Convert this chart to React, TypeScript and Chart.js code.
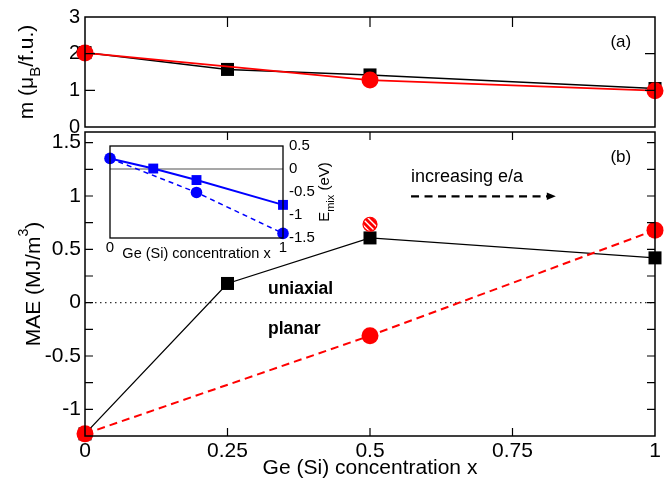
import React, { useEffect, useRef } from 'react';
import { Chart, registerables } from 'chart.js';
Chart.register(...registerables);

const W = 672;
const H = 483;
const FONT = "'Liberation Sans', Arial, Helvetica, sans-serif";

// shared x axis
const xTicks = [0, 0.25, 0.5, 0.75, 1];
const xTickLabels = ['0', '0.25', '0.5', '0.75', '1'];
const xInnerTicks = [0.25, 0.5, 0.75];

// panel (a): magnetic moment
const momentBlackX = [0, 0.25, 0.5, 1];
const momentBlack = [2.03, 1.57, 1.42, 1.05];
const momentRedX = [0, 0.5, 1];
const momentRed = [2.02, 1.28, 0.99];
const yTicksA = [0, 1, 2, 3];
const yTickLabelsA = ['0', '1', '2', '3'];
const yInnerTicksA = [1, 2];

// panel (b): MAE
const maeBlackX = [0, 0.25, 0.5, 1];
const maeBlack = [-1.23, 0.18, 0.607, 0.42];
const maeRedX = [0, 0.5, 1];
const maeRed = [-1.23, -0.31, 0.68];
const maeHatchX = [0.5];
const maeHatch = [0.735];
const zeroX = [0, 1];
const zeroY = [0, 0];
const yTicksB = [-1, -0.5, 0, 0.5, 1, 1.5];
const yTickLabelsB = ['-1', '-0.5', '0', '0.5', '1', '1.5'];
const yInnerTicksB = [-1, -0.75, -0.5, -0.25, 0, 0.25, 0.5, 0.75, 1, 1.25, 1.5];

// inset: E_mix
const insetSquareX = [0, 0.25, 0.5, 1];
const insetSquare = [0.23, 0.01, -0.24, -0.78];
const insetCircleX = [0, 0.5, 1];
const insetCircle = [0.23, -0.51, -1.4];
const insetXTicks = [0, 1];
const insetXTickLabels = ['0', '1'];
const insetYTicks = [-1.5, -1, -0.5, 0, 0.5];
const insetYTickLabels = ['-1.5', '-1', '-0.5', '0', '0.5'];

const pts = (xs: number[], ys: number[]) => xs.map((x, i) => ({ x, y: ys[i] }));

type Part = { t: string; size: number; dy?: number; bold?: boolean };

function drawRich(ctx: CanvasRenderingContext2D, parts: Part[], x: number, y: number, rotate = false, align: 'center' | 'left' = 'center') {
  ctx.save();
  ctx.translate(x, y);
  if (rotate) ctx.rotate(-Math.PI / 2);
  ctx.textBaseline = 'alphabetic';
  ctx.textAlign = 'left';
  ctx.fillStyle = '#000';
  let total = 0;
  const widths: number[] = [];
  for (const p of parts) {
    ctx.font = `${p.bold ? 'bold ' : ''}${p.size}px ${FONT}`;
    const w = ctx.measureText(p.t).width;
    widths.push(w);
    total += w;
  }
  let cx = align === 'center' ? -total / 2 : 0;
  parts.forEach((p, i) => {
    ctx.font = `${p.bold ? 'bold ' : ''}${p.size}px ${FONT}`;
    ctx.fillText(p.t, cx, p.dy || 0);
    cx += widths[i];
  });
  ctx.restore();
}

function frameAndTicks(chart: any, opt: { lw: number; len: number; xs: number[]; ys: number[]; top: boolean; bottom: boolean; left: boolean; right: boolean }) {
  const ctx: CanvasRenderingContext2D = chart.ctx;
  const a = chart.chartArea;
  const xs = chart.scales.x;
  const ys = chart.scales.y;
  ctx.save();
  ctx.strokeStyle = '#000';
  ctx.lineWidth = opt.lw;
  ctx.setLineDash([]);
  ctx.strokeRect(a.left, a.top, a.right - a.left, a.bottom - a.top);
  ctx.lineWidth = 1.2;
  ctx.beginPath();
  for (const v of opt.xs) {
    const px = xs.getPixelForValue(v);
    if (opt.top) { ctx.moveTo(px, a.top); ctx.lineTo(px, a.top + opt.len); }
    if (opt.bottom) { ctx.moveTo(px, a.bottom); ctx.lineTo(px, a.bottom - opt.len); }
  }
  for (const v of opt.ys) {
    const py = ys.getPixelForValue(v);
    if (opt.left) { ctx.moveTo(a.left, py); ctx.lineTo(a.left + opt.len, py); }
    if (opt.right) { ctx.moveTo(a.right, py); ctx.lineTo(a.right - opt.len, py); }
  }
  ctx.stroke();
  ctx.restore();
}

function makeHatch(): CanvasPattern | string {
  const c = document.createElement('canvas');
  c.width = 6;
  c.height = 6;
  const g = c.getContext('2d');
  if (!g) return '#ff0000';
  g.fillStyle = '#ff0000';
  g.fillRect(0, 0, 6, 6);
  g.strokeStyle = '#ffffff';
  g.lineWidth = 1.4;
  g.beginPath();
  g.moveTo(-3, 3); g.lineTo(3, 9);
  g.moveTo(0, 0); g.lineTo(6, 6);
  g.moveTo(3, -3); g.lineTo(9, 3);
  g.stroke();
  return g.createPattern(c, 'repeat') || '#ff0000';
}

const noGrid = { display: false, drawTicks: false };
const noBorder = { display: false };

function fixedTicks(values: number[]) {
  return (s: any) => { s.ticks = values.map((v) => ({ value: v })); };
}

function configA(): any {
  return {
    type: 'line',
    data: {
      datasets: [
        { data: pts(momentRedX, momentRed), order: 0, borderColor: '#ff0000', borderWidth: 1.8, pointStyle: 'circle', pointRadius: 8.5, pointBackgroundColor: '#ff0000', pointBorderWidth: 0, clip: false },
        { data: pts(momentBlackX, momentBlack), order: 1, borderColor: '#000', borderWidth: 1.5, pointStyle: 'rect', pointRadius: 9.2, pointBackgroundColor: '#000', pointBorderWidth: 0, clip: false },
      ],
    },
    options: {
      responsive: false, animation: false, events: [],
      layout: { padding: { left: 0, top: 15, right: W - 655, bottom: 0 } },
      plugins: { legend: { display: false }, tooltip: { enabled: false } },
      scales: {
        x: { type: 'linear', min: 0, max: 1, afterBuildTicks: fixedTicks(xTicks), ticks: { display: false }, grid: noGrid, border: noBorder, afterFit: (s: any) => { s.height = H - 127; } },
        y: {
          type: 'linear', min: 0, max: 3, afterBuildTicks: fixedTicks(yTicksA),
          ticks: { font: { family: FONT, size: 20 }, color: '#000', padding: 5, callback: (_v: any, i: number) => yTickLabelsA[i] },
          grid: noGrid, border: noBorder, afterFit: (s: any) => { s.width = 85; },
        },
      },
    },
    plugins: [{
      id: 'decorA',
      afterDraw(chart: any) {
        const ctx = chart.ctx;
        frameAndTicks(chart, { lw: 1.5, len: 10, xs: xInnerTicks, ys: yInnerTicksA, top: true, bottom: false, left: true, right: true });
        const a = chart.chartArea;
        drawRich(ctx, [
          { t: 'm (\u03BC', size: 21 },
          { t: 'B', size: 15, dy: 7 },
          { t: '/f.u.)', size: 21 },
        ], 33, (a.top + a.bottom) / 2, true);
        const xs = chart.scales.x, ys = chart.scales.y;
        ctx.save();
        ctx.font = `17px ${FONT}`;
        ctx.fillStyle = '#000';
        ctx.textAlign = 'center';
        ctx.textBaseline = 'middle';
        ctx.fillText('(a)', xs.getPixelForValue(0.94), ys.getPixelForValue(2.31));
        ctx.restore();
      },
    }],
  };
}

function configB(): any {
  return {
    type: 'line',
    data: {
      datasets: [
        { data: pts(maeHatchX, maeHatch), order: 0, showLine: false, pointStyle: 'circle', pointRadius: 7, pointBackgroundColor: makeHatch(), pointBorderColor: '#ff0000', pointBorderWidth: 1.2, clip: false },
        { data: pts(maeRedX, maeRed), order: 1, borderColor: '#ff0000', borderWidth: 2, borderDash: [8, 5], pointStyle: 'circle', pointRadius: 8.5, pointBackgroundColor: '#ff0000', pointBorderWidth: 0, clip: false },
        { data: pts(maeBlackX, maeBlack), order: 2, borderColor: '#000', borderWidth: 1.3, pointStyle: 'rect', pointRadius: 9.2, pointBackgroundColor: '#000', pointBorderWidth: 0, clip: false },
        { data: pts(zeroX, zeroY), order: 3, borderColor: '#333', borderWidth: 1.2, borderDash: [1.5, 3.5], pointRadius: 0 },
      ],
    },
    options: {
      responsive: false, animation: false, events: [],
      layout: { padding: { left: 0, top: 132, right: W - 655, bottom: 0 } },
      plugins: { legend: { display: false }, tooltip: { enabled: false } },
      scales: {
        x: {
          type: 'linear', min: 0, max: 1, afterBuildTicks: fixedTicks(xTicks),
          ticks: { font: { family: FONT, size: 21 }, color: '#000', padding: 3, autoSkip: false, maxRotation: 0, callback: (_v: any, i: number) => xTickLabels[i] },
          grid: noGrid, border: noBorder, afterFit: (s: any) => { s.height = H - 436; },
        },
        y: {
          type: 'linear', min: -1.25, max: 1.6, afterBuildTicks: fixedTicks(yTicksB),
          ticks: { font: { family: FONT, size: 21 }, color: '#000', padding: 4, callback: (_v: any, i: number) => yTickLabelsB[i] },
          grid: noGrid, border: noBorder, afterFit: (s: any) => { s.width = 85; },
        },
      },
    },
    plugins: [{
      id: 'decorB',
      afterDraw(chart: any) {
        const ctx: CanvasRenderingContext2D = chart.ctx;
        frameAndTicks(chart, { lw: 1.5, len: 8, xs: xInnerTicks, ys: yInnerTicksB, top: true, bottom: true, left: true, right: true });
        const a = chart.chartArea;
        const xs = chart.scales.x, ys = chart.scales.y;
        drawRich(ctx, [{ t: 'Ge (Si) concentration x', size: 21 }], (a.left + a.right) / 2, 474);
        drawRich(ctx, [
          { t: 'MAE (MJ/m', size: 21 },
          { t: '3', size: 14, dy: -12 },
          { t: ')', size: 21 },
        ], 39.5, (a.top + a.bottom) / 2, true);
        ctx.save();
        ctx.fillStyle = '#000';
        ctx.textAlign = 'center';
        ctx.textBaseline = 'middle';
        ctx.font = `17px ${FONT}`;
        ctx.fillText('(b)', xs.getPixelForValue(0.94), ys.getPixelForValue(1.362));
        ctx.textAlign = 'left';
        ctx.textBaseline = 'alphabetic';
        ctx.font = `bold 17.5px ${FONT}`;
        ctx.fillText('uniaxial', xs.getPixelForValue(0.321), ys.getPixelForValue(0.08));
        ctx.fillText('planar', xs.getPixelForValue(0.321), ys.getPixelForValue(-0.295));
        ctx.font = `18px ${FONT}`;
        const tx = xs.getPixelForValue(0.572);
        ctx.fillText('increasing e/a', tx, ys.getPixelForValue(1.128));
        // dashed arrow
        const ay = ys.getPixelForValue(0.997);
        const tip = xs.getPixelForValue(0.826);
        ctx.strokeStyle = '#000';
        ctx.lineWidth = 2.3;
        ctx.setLineDash([8, 5.5]);
        ctx.beginPath();
        ctx.moveTo(tx, ay);
        ctx.lineTo(tip - 8, ay);
        ctx.stroke();
        ctx.setLineDash([]);
        ctx.beginPath();
        ctx.moveTo(tip, ay);
        ctx.lineTo(tip - 9, ay - 3.8);
        ctx.lineTo(tip - 9, ay + 3.8);
        ctx.closePath();
        ctx.fillStyle = '#000';
        ctx.fill();
        ctx.restore();
      },
    }],
  };
}

function configInset(): any {
  return {
    type: 'line',
    data: {
      datasets: [
        { data: pts(insetCircleX, insetCircle), order: 0, borderColor: '#0000ff', borderWidth: 1.5, borderDash: [5, 4], pointStyle: 'circle', pointRadius: 5.8, pointBackgroundColor: '#0000ff', pointBorderWidth: 0, clip: false },
        { data: pts(insetSquareX, insetSquare), order: 1, borderColor: '#0000ff', borderWidth: 2, pointStyle: 'rect', pointRadius: [0, 7, 7, 7], pointBackgroundColor: '#0000ff', pointBorderWidth: 0, clip: false },
        { data: pts(zeroX, zeroY), order: 2, borderColor: '#8a8a8a', borderWidth: 1.5, pointRadius: 0 },
      ],
    },
    options: {
      responsive: false, animation: false, events: [],
      layout: { padding: { left: 110, top: 146, right: 0, bottom: 0 } },
      plugins: { legend: { display: false }, tooltip: { enabled: false } },
      scales: {
        x: {
          type: 'linear', min: 0, max: 1, afterBuildTicks: fixedTicks(insetXTicks),
          ticks: { font: { family: FONT, size: 15 }, color: '#000', padding: 1, autoSkip: false, maxRotation: 0, callback: (_v: any, i: number) => insetXTickLabels[i] },
          grid: noGrid, border: noBorder, afterFit: (s: any) => { s.height = H - 238; },
        },
        y: {
          type: 'linear', position: 'right', min: -1.5, max: 0.5, afterBuildTicks: fixedTicks(insetYTicks),
          ticks: { font: { family: FONT, size: 15 }, color: '#000', padding: 6, callback: (_v: any, i: number) => insetYTickLabels[i] },
          grid: noGrid, border: noBorder, afterFit: (s: any) => { s.width = W - 283; },
        },
      },
    },
    plugins: [{
      id: 'decorInset',
      beforeDatasetsDraw(chart: any) {
        const a = chart.chartArea;
        const ctx = chart.ctx;
        ctx.save();
        ctx.fillStyle = '#fff';
        ctx.fillRect(a.left, a.top, a.right - a.left, a.bottom - a.top);
        ctx.restore();
      },
      afterDraw(chart: any) {
        const ctx: CanvasRenderingContext2D = chart.ctx;
        frameAndTicks(chart, { lw: 1.3, len: 0, xs: [], ys: [], top: false, bottom: false, left: false, right: false });
        const a = chart.chartArea;
        drawRich(ctx, [{ t: 'Ge (Si) concentration x', size: 14.5 }], (a.left + a.right) / 2, 258);
        drawRich(ctx, [
          { t: 'E', size: 15 },
          { t: 'mix', size: 11, dy: 5 },
          { t: ' (eV)', size: 15 },
        ], 329, (a.top + a.bottom) / 2, true);
      },
    }],
  };
}

export default function App() {
  const refA = useRef<HTMLCanvasElement>(null);
  const refB = useRef<HTMLCanvasElement>(null);
  const refI = useRef<HTMLCanvasElement>(null);

  useEffect(() => {
    const cb = new Chart(refB.current as HTMLCanvasElement, configB());
    const ca = new Chart(refA.current as HTMLCanvasElement, configA());
    const ci = new Chart(refI.current as HTMLCanvasElement, configInset());
    return () => {
      ca.destroy();
      cb.destroy();
      ci.destroy();
    };
  }, []);

  const cs: React.CSSProperties = { position: 'absolute', left: 0, top: 0, width: W, height: H };
  return (
    <div style={{ position: 'fixed', left: 0, top: 0, width: W, height: H, background: '#fff' }}>
      <canvas ref={refB} width={W} height={H} style={cs} />
      <canvas ref={refA} width={W} height={H} style={cs} />
      <canvas ref={refI} width={W} height={H} style={cs} />
    </div>
  );
}
